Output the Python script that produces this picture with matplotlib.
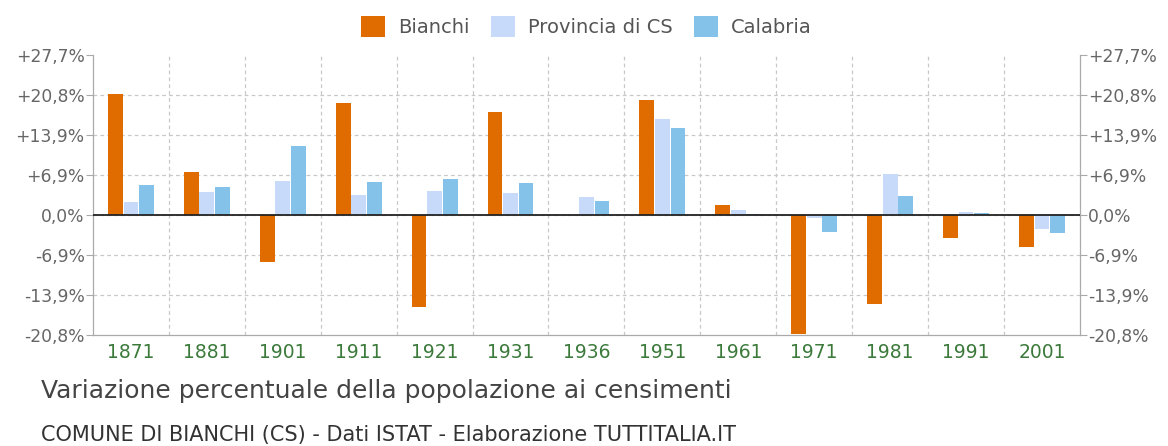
import numpy as np
import matplotlib
matplotlib.use("Agg")
from matplotlib import pyplot as plt

years = ["1871", "1881", "1901", "1911", "1921", "1931", "1936",
         "1951", "1961", "1971", "1981", "1991", "2001"]
bianchi = [21.0, 7.5, -8.2, 19.4, -16.0, 17.8, 0.0, 20.0, 1.7, -20.6, -15.5, -4.0, -5.5]
provincia = [2.3, 3.9, 5.8, 3.5, 4.1, 3.8, 3.1, 16.6, 0.8, -0.6, 7.1, 0.6, -2.5]
calabria = [5.2, 4.9, 12.0, 5.7, 6.3, 5.5, 2.4, 15.1, 0.1, -3.0, 3.3, 0.3, -3.1]

step = 6.93
yticks = [step * k for k in range(-3, 5)]
ylabels = ["-20,8%", "-13,9%", "-6,9%", "0,0%", "+6,9%", "+13,9%", "+20,8%", "+27,7%"]

series = [("Bianchi", bianchi, "#e06c00"),
          ("Provincia di CS", provincia, "#c8dafa"),
          ("Calabria", calabria, "#84c2ea")]

fig = plt.figure(figsize=(11.68, 4.46), dpi=100)
ax = fig.add_axes([0.0796, 0.249, 0.845, 0.6277])

x = np.arange(len(years))
w = 0.195
for i, (name, vals, col) in enumerate(series):
    ax.bar(x + (i - 1) * (w + 0.01), vals, w, color=col, label=name, zorder=3)

ax.set_xlim(-0.5, len(years) - 0.5)
ax.set_ylim(yticks[0], yticks[-1])

# grid
for t in yticks[1:-1]:
    ax.axhline(t, color="#c8c8c8", lw=0.9, ls=(0, (3, 2.5)), zorder=1)
for b in np.arange(0.5, len(years) - 0.5):
    ax.axvline(b, color="#c8c8c8", lw=0.9, ls=(0, (3, 2.5)), zorder=1)
ax.axhline(0, color="#222222", lw=1.3, zorder=4)

for s in ["left", "right", "bottom"]:
    ax.spines[s].set_color("#aaaaaa")
    ax.spines[s].set_linewidth(0.9)
ax.spines["top"].set_visible(False)

ax.set_xticks(x)
ax.set_xticklabels(years, color="#3b7a3b", fontsize=13.5)
ax.tick_params(axis="x", length=0, pad=6)

ax.set_yticks(yticks)
ax.set_yticklabels(ylabels, color="#666666", fontsize=12.3)
ax.tick_params(axis="y", length=5, color="#aaaaaa", pad=1, labelright=True, right=True)

fig.legend(loc="upper center", bbox_to_anchor=(0.502, 1.003), ncol=3, frameon=False,
           fontsize=14, handlelength=1.24, handleheight=1.24, columnspacing=1.1,
           handletextpad=0.65, labelcolor="#555555")

fig.text(0.035, 0.123, "Variazione percentuale della popolazione ai censimenti",
         fontsize=18, color="#444444", va="center")
fig.text(0.035, 0.025, "COMUNE DI BIANCHI (CS) - Dati ISTAT - Elaborazione TUTTITALIA.IT",
         fontsize=15, color="#333333", va="center")

fig.savefig("out.png", dpi=100)
